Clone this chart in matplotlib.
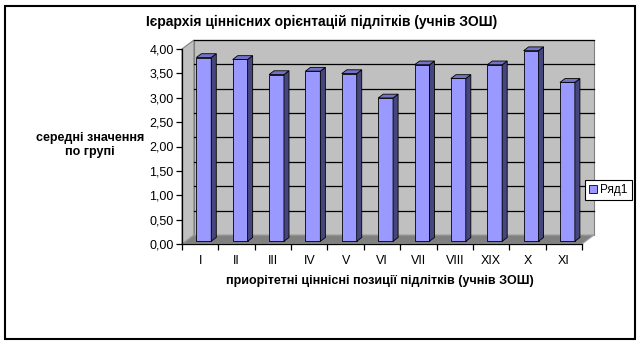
import matplotlib.pyplot as plt
from matplotlib.patches import Polygon, Rectangle, Patch

categories = ['I', 'II', 'III', 'IV', 'V', 'VI', 'VII', 'VIII', 'XIX', 'X', 'XI']
values = [3.77, 3.73, 3.42, 3.49, 3.44, 2.94, 3.62, 3.34, 3.62, 3.91, 3.26]
yticks = [0, 0.5, 1.0, 1.5, 2.0, 2.5, 3.0, 3.5, 4.0]
series_name = 'Ряд1'

title = 'Ієрархія ціннісних орієнтацій підлітків (учнів ЗОШ)'
xlabel = 'приорітетні ціннісні позиції підлітків (учнів ЗОШ)'
ylabel = 'середні значення\nпо групі'

plt.rcParams['font.family'] = ['Liberation Sans', 'DejaVu Sans']

W, H = 643, 345
fig = plt.figure(figsize=(W / 100, H / 100), dpi=100)
ax = fig.add_axes([182 / W, 101 / H, 400 / W, 195 / H])

n = len(categories)
ymax = yticks[-1]
dx, dy = 0.33, 0.185      # depth of the 3d box in data units
f0, f1 = 0.3, 0.72        # bar front / back depth fractions
w = 0.41

wall = '#c0c0c0'
# side wall, back wall, floor
ax.add_patch(Polygon([(0, 0), (dx, dy), (dx, ymax + dy), (0, ymax)], closed=True,
                     fc=wall, ec='#808080', lw=0.8, clip_on=False, zorder=0))
ax.add_patch(Polygon([(dx, dy), (n + dx, dy), (n + dx, ymax + dy), (dx, ymax + dy)],
                     closed=True, fc=wall, ec='#808080', lw=0.8, clip_on=False, zorder=0))
ax.add_patch(Polygon([(0, 0), (n, 0), (n + dx, dy), (dx, dy)], closed=True,
                     fc='#808080', ec='#a0a0a0', lw=0.8, clip_on=False, zorder=1))
for t in yticks[1:]:
    ax.plot([dx, n + dx], [t + dy, t + dy], color='black', lw=0.9, clip_on=False, zorder=1)

# bars
b = f0 * dy
xs = [i + 0.5 + f0 * dx for i in range(n)]
bdx, bdy = (f1 - f0) * dx, (f1 - f0) * dy
ax.bar(xs, values, width=w, bottom=b, color='#9999ff', edgecolor='black',
       linewidth=0.6, zorder=3, clip_on=False)
for x, v in zip(xs, values):
    r, l, top = x + w / 2, x - w / 2, b + v
    ax.add_patch(Polygon([(r, b), (r + bdx, b + bdy), (r + bdx, top + bdy), (r, top)],
                         closed=True, fc='#46467f', ec='black', lw=0.6, zorder=3, clip_on=False))
    ax.add_patch(Polygon([(l, top), (r, top), (r + bdx, top + bdy), (l + bdx, top + bdy)],
                         closed=True, fc='#7373c6', ec='black', lw=0.6, zorder=3, clip_on=False))

ax.set_xlim(0, n)
ax.set_ylim(0, ymax)
ax.patch.set_visible(False)
for s in ['top', 'right']:
    ax.spines[s].set_visible(False)
ax.spines['left'].set_linewidth(0.9)
ax.spines['bottom'].set_linewidth(0.9)

ax.set_yticks(yticks)
ax.set_yticklabels([f'{t:.2f}'.replace('.', ',') for t in yticks], fontsize=9)
ax.tick_params(axis='y', length=4, width=0.9, pad=2)

ax.set_xticks(range(n + 1))
ax.set_xticklabels([])
ax.set_xticks([i + 0.5 for i in range(n)], minor=True)
ax.set_xticklabels(categories, minor=True, fontsize=9)
ax.tick_params(axis='x', which='major', length=4, width=0.9)
ax.tick_params(axis='x', which='minor', length=0, pad=8)

fig.text(0.5, 1 - 22 / H, title, ha='center', va='center', fontsize=10, weight='bold')
fig.text(380 / W, 1 - 281 / H, xlabel, ha='center', va='center', fontsize=9, weight='bold')
fig.text(90 / W, 1 - 145 / H, ylabel, ha='center', va='center', fontsize=9,
         weight='bold', linespacing=1.3)

leg = fig.legend(handles=[Patch(fc='#9999ff', ec='black', lw=0.6, label=series_name)],
                 loc='center left', bbox_to_anchor=(581 / W, 1 - 190 / H), frameon=True,
                 fancybox=False, edgecolor='black', framealpha=1, handlelength=0.7,
                 handleheight=0.7, handletextpad=0.3, borderpad=0.35, borderaxespad=0.3,
                 fontsize=8.5)
leg.get_frame().set_linewidth(0.8)

fig.add_artist(Rectangle((5 / W, 6 / H), 630 / W, 333 / H, transform=fig.transFigure,
                         fill=False, ec='black', lw=1.5))

fig.savefig('out.png', dpi=100)
